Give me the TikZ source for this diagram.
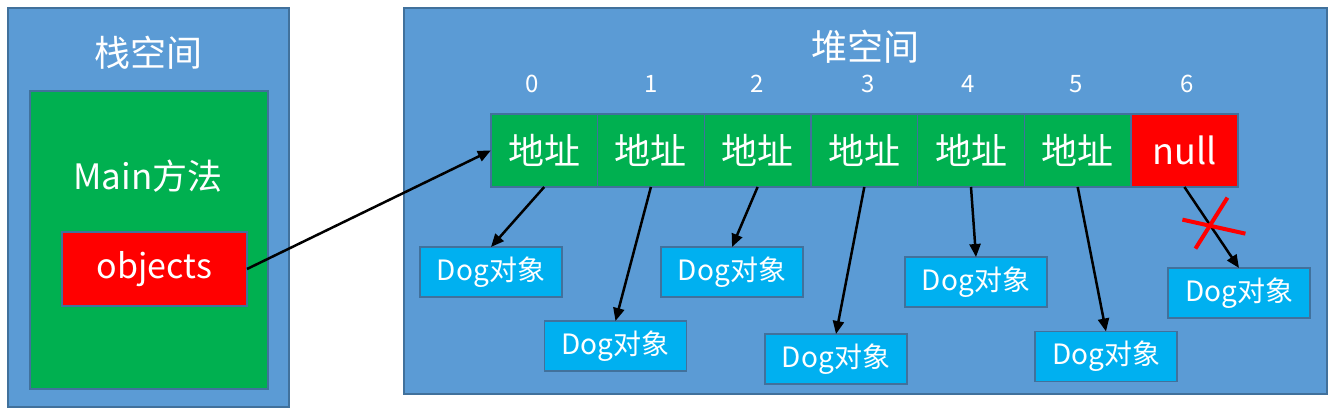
\documentclass[tikz,border=0pt]{standalone}
\usepackage{fontspec}
\setmainfont{Noto Sans CJK SC}
\usetikzlibrary{arrows.meta, positioning}

\definecolor{spaceblue}{HTML}{5B9BD5}
\definecolor{edgeblue}{HTML}{41719C}
\definecolor{addrgreen}{HTML}{00B050}
\definecolor{dogblue}{HTML}{00B0F0}
\definecolor{nullred}{HTML}{FF0000}

\begin{document}
\begin{tikzpicture}[
    x=1pt, y=-1pt, text=white,
    region/.style = {draw=edgeblue, line width=1.5pt, fill=spaceblue,
                     inner sep=0pt, outer sep=0pt},
    ttl/.style    = {font=\fontsize{36}{40}\selectfont},
    cell/.style   = {draw=edgeblue, line width=1.5pt, fill=addrgreen,
                     minimum width=106.7pt, minimum height=73pt,
                     inner sep=0pt, outer sep=0pt, font=\fontsize{36}{40}\selectfont},
    idx/.style    = {inner sep=0pt, font=\fontsize{24}{26}\selectfont},
    dog/.style    = {draw=edgeblue, line width=1.5pt, fill=dogblue,
                     minimum width=142pt, minimum height=50pt,
                     inner sep=0pt, outer sep=0pt, font=\fontsize{28}{31}\selectfont},
    arrow/.style  = {-{Triangle[length=13pt, width=11pt]}, line width=2.5pt, draw=black},
    cross/.style  = {draw=nullred, line width=4pt}
]
\useasboundingbox (0,0) rectangle (1336,414);

%% ── Espacio de pila ─────────────────────────────────────────────────────────
\node[region, minimum width=281pt, minimum height=399pt] (stack) at (148.5,207.5) {};
\node[ttl] (stacktitle) at (148,53) {栈空间};
\node[region, fill=addrgreen, minimum width=238pt, minimum height=298pt] (mainbox) at (149,240) {};
\node[font=\fontsize{35}{38}\selectfont] (maintxt) at (148,176) {Main方法};
\node[region, fill=nullred, minimum width=185pt, minimum height=74pt,
      font=\fontsize{34}{37}\selectfont] (objs) at (154.5,269) {\raisebox{-2pt}{objects}};

%% ── Espacio de montón ───────────────────────────────────────────────────────
\node[region, minimum width=923pt, minimum height=386pt] (heap) at (865.5,201) {};
\node[ttl] (heaptitle) at (865,47) {堆空间};

%% ── Celdas del arreglo ──────────────────────────────────────────────────────
\node[cell] (c0) at (544.2,150.5) {地址};
\node[cell, right=0pt of c0] (c1) {地址};
\node[cell, right=0pt of c1] (c2) {地址};
\node[cell, right=0pt of c2] (c3) {地址};
\node[cell, right=0pt of c3] (c4) {地址};
\node[cell, right=0pt of c4] (c5) {地址};
\node[cell, fill=nullred, right=0pt of c5] (c6) {null};

\node[idx, above=21pt of c0, xshift=-12pt] (i0) {0};
\node[idx, above=21pt of c1] (i1) {1};
\node[idx, above=21pt of c2] (i2) {2};
\node[idx, above=21pt of c3, xshift=4pt] (i3) {3};
\node[idx, above=21pt of c4, xshift=-3pt] (i4) {4};
\node[idx, above=21pt of c5, xshift=-2pt] (i5) {5};
\node[idx, above=21pt of c6, xshift=3pt] (i6) {6};

%% ── Objetos Dog ─────────────────────────────────────────────────────────────
\node[dog] (d0) at (491,272) {Dog对象};
\node[dog] (d1) at (615.5,346) {Dog对象};
\node[dog] (d2) at (732,272) {Dog对象};
\node[dog] (d3) at (836,359) {Dog对象};
\node[dog] (d4) at (976,282) {Dog对象};
\node[dog] (d5) at (1106,356.5) {Dog对象};
\node[dog] (d6) at (1239,293) {Dog对象};

%% ── Referencias ─────────────────────────────────────────────────────────────
\draw[arrow] (objs.east) -- (c0.west);
\draw[arrow] (c0.south) -- (d0.north);
\draw[arrow] (c1.south) -- (d1.north);
\draw[arrow] (c2.south) -- (d2.north);
\draw[arrow] (c3.south) -- (d3.north);
\draw[arrow] (c4.south) -- (d4.north);
\draw[arrow] (c5.south) -- (d5.north);
\draw[arrow] (c6.south) -- coordinate[pos=0.44] (cut) (d6.north);
\draw[cross] ([shift={(-26,-3)}]cut) -- ([shift={(37,11)}]cut);
\draw[cross] ([shift={(19,-25)}]cut) -- ([shift={(-13,26)}]cut);

\end{tikzpicture}
\end{document}
